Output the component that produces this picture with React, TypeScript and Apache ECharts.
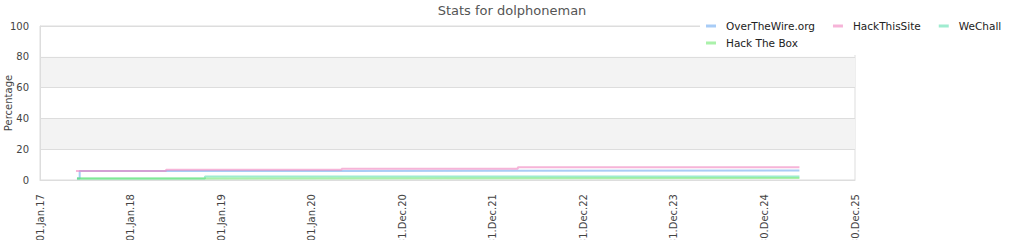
import React, { useEffect, useRef } from "react";
import * as echarts from "echarts";

const seriesNames = ["OverTheWire.org", "HackThisSite", "WeChall", "Hack The Box"];
const seriesColors = [
  "rgba(110,170,240,0.6)",
  "rgba(240,130,190,0.6)",
  "rgba(80,220,170,0.55)",
  "rgba(100,230,100,0.55)",
];

const overTheWire: [string, number][] = [
  ["2017-05-30", 1.0],
  ["2017-06-10", 5.9],
  ["2020-05-01", 6.2],
  ["2025-05-20", 6.2],
];
const hackThisSite: [string, number][] = [
  ["2017-05-26", 5.8],
  ["2018-05-24", 6.6],
  ["2020-05-01", 7.3],
  ["2022-04-11", 8.2],
  ["2025-05-20", 8.2],
];
const weChall: [string, number][] = [
  ["2017-05-30", 1.0],
  ["2018-10-28", 2.2],
  ["2025-05-20", 2.2],
];
const hackTheBox: [string, number][] = [
  ["2017-05-30", 1.0],
  ["2018-10-28", 1.3],
  ["2025-05-20", 1.3],
];

const yTicks = [0, 20, 40, 60, 80, 100];
const monthNames = ["Jan", "Feb", "Mar", "Apr", "May", "Jun", "Jul", "Aug", "Sep", "Oct", "Nov", "Dec"];

const ORIGIN = Date.UTC(2017, 0, 1);
const DAY = 86400000;
const toDays = (s: string) => {
  const [y, m, d] = s.split("-").map(Number);
  return (Date.UTC(y, m - 1, d) - ORIGIN) / DAY;
};
const fmt = (days: number) => {
  const dt = new Date(ORIGIN + days * DAY);
  const dd = String(dt.getUTCDate()).padStart(2, "0");
  const yy = String(dt.getUTCFullYear() % 100).padStart(2, "0");
  return `${dd}.${monthNames[dt.getUTCMonth()]}.${yy}`;
};

const allSeries = [overTheWire, hackThisSite, weChall, hackTheBox];

export default function App() {
  const ref = useRef<HTMLDivElement>(null);
  useEffect(() => {
    if (!ref.current) return;
    const chart = echarts.init(ref.current, null, { renderer: "svg" });
    const font = "DejaVu Sans";
    chart.setOption({
      animation: false,
      backgroundColor: "#fff",
      textStyle: { fontFamily: font },
      title: {
        text: "Stats for dolphoneman",
        left: "center",
        top: 4,
        padding: 0,
        textStyle: { fontFamily: font, fontSize: 13, fontWeight: "normal", color: "#555" },
      },
      legend: {
        data: seriesNames,
        left: 700,
        top: 14,
        width: 320,
        orient: "horizontal",
        backgroundColor: "#fff",
        padding: [5, 5, 5, 6],
        itemWidth: 10,
        itemHeight: 3,
        itemGap: 3,
        icon: "rect",
        textStyle: {
          fontFamily: font,
          fontSize: 10.5,
          color: "#222",
          lineHeight: 14,
          padding: [0, 15, 0, 5],
        },
      },
      grid: {
        left: 40,
        right: 169,
        top: 26,
        bottom: 60,
        show: true,
        borderColor: "#ddd",
        borderWidth: 1,
        backgroundColor: "transparent",
        outerBoundsMode: "none",
        containLabel: false,
      },
      xAxis: {
        type: "value",
        min: 0,
        max: 3285,
        interval: 365,
        axisLine: { show: true, lineStyle: { color: "#ddd" } },
        axisTick: { show: false },
        splitLine: { show: false },
        axisLabel: {
          rotate: 90,
          margin: 14,
          fontSize: 10,
          color: "#444",
          fontFamily: font,
          formatter: (v: number) => fmt(v),
        },
      },
      yAxis: {
        type: "value",
        min: yTicks[0],
        max: yTicks[yTicks.length - 1],
        interval: 20,
        name: "Percentage",
        nameLocation: "middle",
        nameGap: 27,
        nameMoveOverlap: false,
        nameTextStyle: { fontFamily: font, fontSize: 10, color: "#444" },
        axisLine: { show: true, lineStyle: { color: "#ddd" } },
        axisTick: { show: false },
        axisLabel: { fontSize: 10, color: "#444", margin: 11, fontFamily: font },
        splitLine: { show: true, lineStyle: { color: "#ddd" } },
        splitArea: { show: true, areaStyle: { color: ["rgba(255,255,255,0)", "#f3f3f3"] } },
      },
      series: allSeries.map((d, i) => ({
        name: seriesNames[i],
        type: "line",
        step: "end",
        symbol: "none",
        color: seriesColors[i],
        lineStyle: { width: 2, color: seriesColors[i] },
        data: d.map(([s, v]) => [toDays(s), v]),
      })),
    });
    return () => chart.dispose();
  }, []);
  return (
    <div
      ref={ref}
      style={{ position: "absolute", left: 0, top: 0, width: 1024, height: 240 }}
    />
  );
}
